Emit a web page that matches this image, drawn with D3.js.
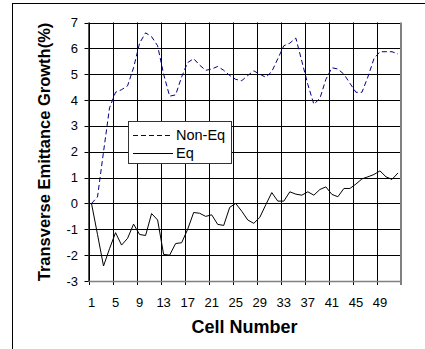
<!DOCTYPE html>
<html><head><meta charset="utf-8">
<script src="https://cdn.jsdelivr.net/npm/d3@7"></script>
<style>body{margin:0;background:#fff}svg{display:block}text{font-family:"Liberation Sans",Arial,sans-serif}</style>
</head><body>
<script>
const cells = d3.range(1, 53);
const nonEq = [0,0.25,2.0,3.7,4.3,4.4,4.55,5.25,6.2,6.6,6.45,6.1,5.0,4.15,4.2,4.9,5.45,5.6,5.35,5.15,5.2,5.3,5.15,4.95,4.8,4.75,4.95,5.13,5.0,4.88,5.1,5.6,6.1,6.2,6.4,5.5,4.6,3.84,4.06,4.8,5.25,5.2,5.0,4.65,4.3,4.3,4.9,5.6,5.87,5.87,5.87,5.78];
const eq = [0,-1.2,-2.42,-1.75,-1.13,-1.61,-1.35,-0.8,-1.2,-1.24,-0.39,-0.64,-1.97,-2.0,-1.55,-1.52,-1.0,-0.35,-0.38,-0.5,-0.44,-0.81,-0.85,-0.15,0.0,-0.3,-0.64,-0.77,-0.54,-0.05,0.42,0.09,0.09,0.45,0.36,0.32,0.45,0.32,0.54,0.64,0.35,0.26,0.58,0.58,0.75,0.95,1.03,1.12,1.26,1.03,0.93,1.18];
const yTicks = [-3,-2,-1,0,1,2,3,4,5,6,7];
const xTickLabels = [1,5,9,13,17,21,25,29,33,37,41,45,49];
const seriesNames = ["Non-Eq","Eq"];

const W = 425, H = 349;
const L = 88.5, R = 401, T = 22.5, B = 281;
const svg = d3.select("body").append("svg").attr("width", W).attr("height", H);

// outer frame
svg.append("rect").attr("x",12.5).attr("y",3.5).attr("width",600).attr("height",600)
  .attr("fill","none").attr("stroke","#000").attr("stroke-width",1);

const x = d3.scaleBand().domain(cells).range([L, R]);
const y = d3.scaleLinear().domain([-3, 7]).range([B, T]);

// gridlines horizontal
svg.append("g").selectAll("line").data(yTicks).join("line")
  .attr("x1", L).attr("x2", R)
  .attr("y1", d => Math.round(y(d)) + 0.5).attr("y2", d => Math.round(y(d)) + 0.5)
  .attr("stroke", "#000").attr("stroke-width", 1);
// gridlines vertical at category boundaries every 4
const vg = d3.range(1, 53, 4);
svg.append("g").selectAll("line").data(vg).join("line")
  .attr("x1", d => Math.round(x(d)) + 0.5).attr("x2", d => Math.round(x(d)) + 0.5)
  .attr("y1", T).attr("y2", B + 4)
  .attr("stroke", "#000").attr("stroke-width", 1);

// plot border right/bottom
svg.append("line").attr("x1", R).attr("x2", R).attr("y1", T).attr("y2", B+4)
  .attr("stroke", "#808080").attr("stroke-width", 2);
svg.append("line").attr("x1", L).attr("x2", R+1).attr("y1", Math.round(B)+0.5).attr("y2", Math.round(B)+0.5)
  .attr("stroke", "#808080").attr("stroke-width", 1.5);
svg.append("line").attr("x1", L+0.5-L%1).attr("x2", L+0.5-L%1).attr("y1", T).attr("y2", B)
  .attr("stroke", "#555").attr("stroke-width", 1);

// y axis ticks + labels
const ya = svg.append("g");
ya.selectAll("line").data(yTicks).join("line")
  .attr("x1", L - 4).attr("x2", L)
  .attr("y1", d => Math.round(y(d)) + 0.5).attr("y2", d => Math.round(y(d)) + 0.5)
  .attr("stroke", "#000");
ya.selectAll("text").data(yTicks).join("text")
  .attr("x", 78).attr("y", d => y(d)).attr("dy", "0.35em")
  .attr("text-anchor", "end").attr("font-size", 13).text(d => d);

// x labels
svg.append("g").selectAll("text").data(xTickLabels).join("text")
  .attr("x", d => x(d) + x.bandwidth()/2).attr("y", 302).attr("dy", "0.35em")
  .attr("text-anchor", "middle").attr("font-size", 13).text(d => d);

// titles
svg.append("text").attr("x", 244.5).attr("y", 327).attr("dy","0.35em").attr("text-anchor","middle")
  .attr("font-size", 18).attr("font-weight","bold").text("Cell Number");
svg.append("text").attr("transform","translate(44,152) rotate(-90)").attr("dy","0.35em").attr("text-anchor","middle")
  .attr("font-size", 16.5).attr("font-weight","bold").text("Transverse Emittance Growth(%)");

// series
const line = d3.line().x((d,i) => x(cells[i]) + x.bandwidth()/2).y(d => y(d));
svg.append("path").datum(nonEq).attr("d", line).attr("fill","none")
  .attr("stroke","#000080").attr("stroke-width",1).attr("stroke-dasharray","5,3");
svg.append("path").datum(eq).attr("d", line).attr("fill","none")
  .attr("stroke","#000").attr("stroke-width",1);

// legend
const lg = svg.append("g");
lg.append("rect").attr("x",128.5).attr("y",121.5).attr("width",103).attr("height",42)
  .attr("fill","#fff").attr("stroke","#333").attr("stroke-width",1);
lg.append("line").attr("x1",133).attr("x2",173).attr("y1",135.5).attr("y2",135.5)
  .attr("stroke","#000080").attr("stroke-dasharray","5,3");
lg.append("line").attr("x1",133).attr("x2",173).attr("y1",153.5).attr("y2",153.5)
  .attr("stroke","#000");
lg.append("text").attr("x",176).attr("y",134.5).attr("dy","0.35em").attr("font-size",14.5).text(seriesNames[0]);
lg.append("text").attr("x",176).attr("y",153).attr("dy","0.35em").attr("font-size",14.5).text(seriesNames[1]);
</script>
</body></html>
